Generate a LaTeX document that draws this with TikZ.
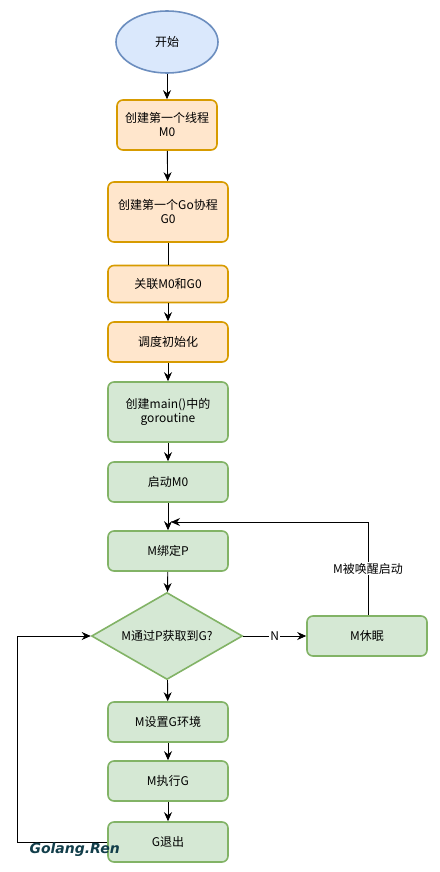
\documentclass[tikz,border=0pt]{standalone}
\usepackage{fontspec}
\setmainfont{Noto Sans CJK SC}
\newfontfamily\wmfont{DejaVu Sans}
\usetikzlibrary{shapes.geometric,arrows.meta}
\definecolor{oFill}{HTML}{FFE6CC}\definecolor{oLine}{HTML}{D79B00}
\definecolor{gFill}{HTML}{D5E8D4}\definecolor{gLine}{HTML}{82B366}
\definecolor{bFill}{HTML}{DAE8FC}\definecolor{bLine}{HTML}{6C8EBF}
\definecolor{wm}{HTML}{123E4A}
\tikzset{
  base/.style={font=\fontsize{12}{14}\selectfont, align=center, line width=1.6pt, inner sep=0pt},
  obox/.style={base, draw=oLine, fill=oFill, rounded corners=6pt, minimum width=#1, minimum height=40pt},
  gbox/.style={base, draw=gLine, fill=gFill, rounded corners=6pt, minimum width=120pt, minimum height=#1},
  arr/.style={-{Stealth[length=9pt,width=8pt]}, line width=0.9pt, black},
  ln/.style={line width=0.9pt, black},
  lbl/.style={font=\fontsize{12}{14}\selectfont, fill=white, inner sep=1pt}
}
\begin{document}
\begin{tikzpicture}[x=1pt,y=-1pt]
\useasboundingbox (0,0) rectangle (439,872);
\node[base, ellipse, draw=bLine, fill=bFill, minimum width=102pt, minimum height=62pt] (start) at (167,42) {开始};
\node[obox=100pt, minimum height=50pt] (b1) at (167,125) {创建第一个线程\\M0};
\node[obox=120pt, minimum height=60pt] (b2) at (168,212) {创建第一个Go协程\\G0};
\node[obox=120pt, minimum height=37pt] (b3) at (168,284) {关联M0和G0};
\node[obox=120pt] (b4) at (168,342) {调度初始化};
\node[gbox=60pt] (b5) at (168,412) {创建main()中的\\goroutine};
\node[gbox=40pt] (b6) at (168,482) {启动M0};
\node[gbox=40pt] (b7) at (168,551) {M绑定P};
\node[base, diamond, draw=gLine, fill=gFill, minimum width=151pt, minimum height=87pt, aspect=1.7] (d) at (167,636) {M通过P获取到G?};
\node[gbox=40pt] (sl) at (367,636) {M休眠};
\node[gbox=40pt] (b8) at (168,722) {M设置G环境};
\node[gbox=40pt] (b9) at (168,781) {M执行G};
\node[gbox=40pt] (b10) at (168,842) {G退出};
\coordinate (merge) at (171,522);
\coordinate (up) at (368,522);
\coordinate (lb) at (17,842);
\coordinate (lt) at (17,636);
\draw[arr] (start) -- (b1);
\draw[arr] (b1) -- (b2);
\draw[ln] (b2) -- (b3);
\draw[arr] (b3) -- (b4);
\draw[arr] (b4) -- (b5);
\draw[arr] (b5) -- (b6);
\draw[arr] (b6) -- (b7);
\draw[arr] (b7) -- (d);
\draw[arr] (d) -- (b8);
\draw[arr] (b8) -- (b9);
\draw[arr] (b9) -- (b10);
\draw[arr] (d) -- node[lbl]{N} (sl);
\draw[arr] (sl.north -| up) -- node[lbl, pos=0.5]{M被唤醒启动} (up) -- (merge);
\draw[arr] (b10.west) -- (lb) -- (lt) -- (d.west);
\node[font=\wmfont\bfseries\itshape\fontsize{14}{16}\selectfont, text=wm, anchor=west] (wm) at (26,850) {Golang.Ren};
\end{tikzpicture}
\end{document}
